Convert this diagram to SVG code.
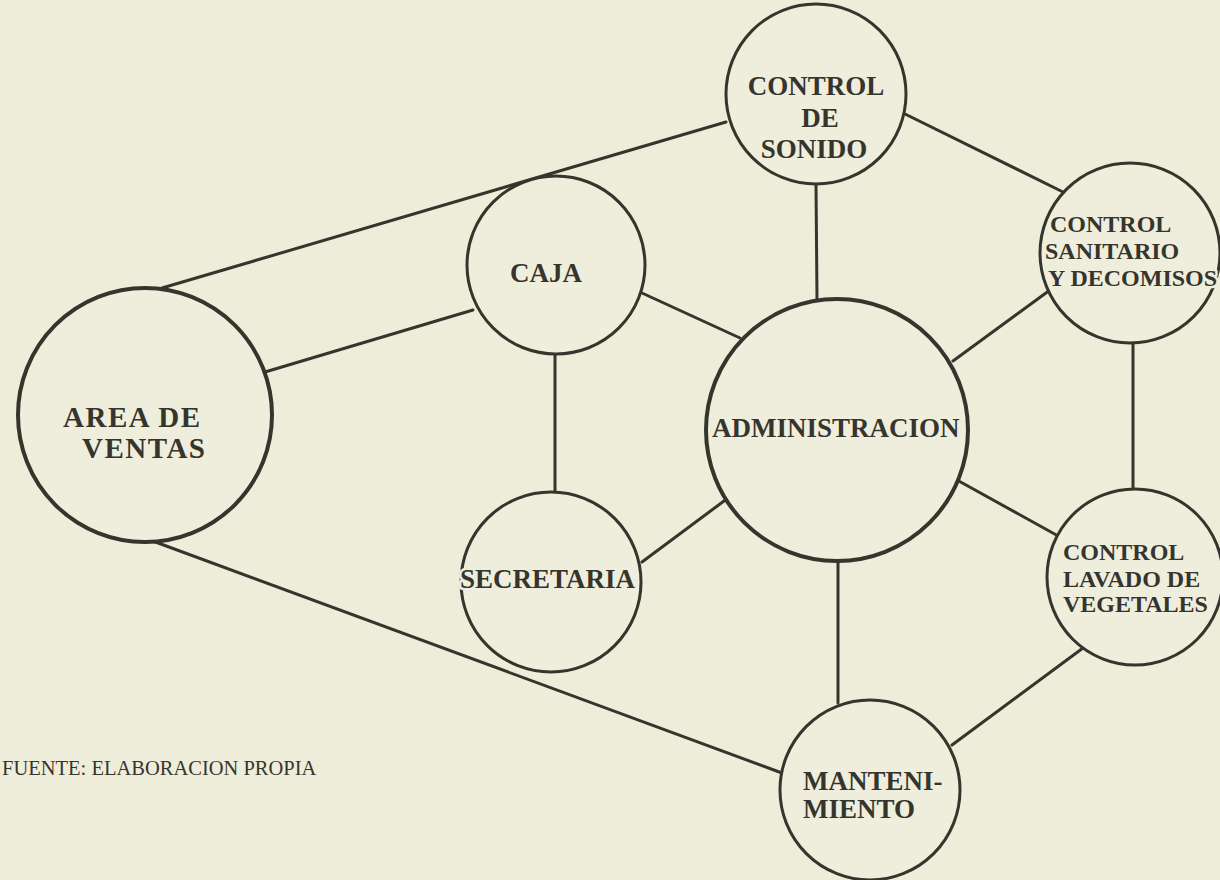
<svg xmlns="http://www.w3.org/2000/svg" width="1220" height="880" viewBox="0 0 1220 880">
  <style>
    .bg { fill: #eeedda; }
    .node { fill: #efeedd; stroke: #35352d; stroke-width: 3; }
    .big { stroke-width: 4; }
    .edge { stroke: #35352d; stroke-width: 3; stroke-linecap: round; fill: none; }
    .lbl { font-family: "Liberation Serif", "Times New Roman", serif; font-weight: bold; fill: #35352d;
           stroke: #efeedd; stroke-width: 5; paint-order: stroke; stroke-linejoin: round; }
    .note { font-family: "Liberation Serif", "Times New Roman", serif; font-size: 20.5px; fill: #35352d; }
  </style>
  <rect class="bg" x="0" y="0" width="1220" height="880"/>

  <g id="connectors">
    <line class="edge" x1="162" y1="288" x2="726" y2="122"/>
    <line class="edge" x1="265" y1="372" x2="473" y2="310"/>
    <line class="edge" x1="150" y1="540" x2="782" y2="773"/>
    <line class="edge" x1="555" y1="353" x2="555" y2="492"/>
    <line class="edge" x1="642" y1="293" x2="740" y2="338"/>
    <line class="edge" x1="816" y1="184" x2="817" y2="299"/>
    <line class="edge" x1="903" y1="113" x2="1063" y2="192"/>
    <line class="edge" x1="1050" y1="290" x2="953" y2="361"/>
    <line class="edge" x1="1133" y1="342" x2="1133" y2="489"/>
    <line class="edge" x1="957" y1="480" x2="1060" y2="537"/>
    <line class="edge" x1="728" y1="498" x2="642" y2="562"/>
    <line class="edge" x1="838" y1="561" x2="838" y2="703"/>
    <line class="edge" x1="1083" y1="648" x2="952" y2="745"/>
  </g>

  <g id="area-ventas">
    <circle class="node big" cx="145" cy="415" r="127"/>
    <text class="lbl" font-size="29" letter-spacing="1.5" x="63" y="427">AREA DE</text>
    <text class="lbl" font-size="29" letter-spacing="1.5" x="82" y="458">VENTAS</text>
  </g>

  <g id="control-sonido">
    <circle class="node" cx="816" cy="94" r="90"/>
    <text class="lbl" font-size="27" text-anchor="middle" x="816" y="95">CONTROL</text>
    <text class="lbl" font-size="27" text-anchor="middle" x="820" y="127">DE</text>
    <text class="lbl" font-size="27" text-anchor="middle" x="814" y="158" stroke-width="14">SONIDO</text>
  </g>

  <g id="caja">
    <circle class="node" cx="556" cy="265" r="89"/>
    <text class="lbl" font-size="27" x="510" y="282">CAJA</text>
  </g>

  <g id="administracion">
    <circle class="node big" cx="837" cy="430" r="131"/>
    <text class="lbl" font-size="27" x="712" y="437">ADMINISTRACION</text>
  </g>

  <g id="control-sanitario">
    <circle class="node" cx="1130" cy="253" r="90"/>
    <text class="lbl" font-size="24" x="1050" y="232">CONTROL</text>
    <text class="lbl" font-size="24" x="1045" y="259">SANITARIO</text>
    <text class="lbl" font-size="24" x="1048" y="286">Y DECOMISOS</text>
  </g>

  <g id="secretaria">
    <circle class="node" cx="551" cy="582" r="90"/>
    <text class="lbl" font-size="27" x="460" y="588">SECRETARIA</text>
  </g>

  <g id="control-lavado">
    <circle class="node" cx="1135" cy="577" r="88"/>
    <text class="lbl" font-size="24" x="1063" y="560">CONTROL</text>
    <text class="lbl" font-size="24" x="1063" y="587">LAVADO DE</text>
    <text class="lbl" font-size="24" x="1063" y="612">VEGETALES</text>
  </g>

  <g id="mantenimiento">
    <circle class="node" cx="870" cy="790" r="90"/>
    <text class="lbl" font-size="27" x="803" y="790">MANTENI-</text>
    <text class="lbl" font-size="27" x="803" y="818">MIENTO</text>
  </g>

  <text class="note" x="2" y="775">FUENTE: ELABORACION PROPIA</text>
</svg>
